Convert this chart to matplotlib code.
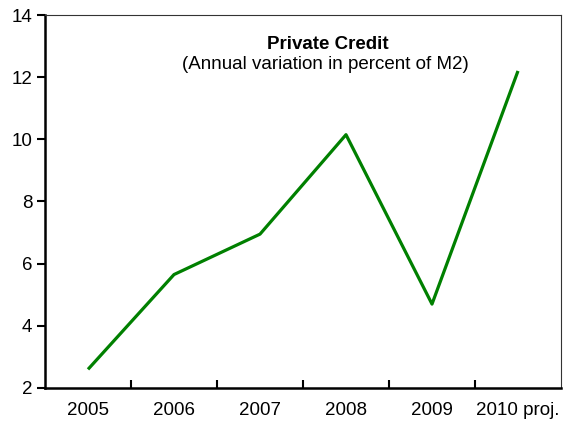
import matplotlib
matplotlib.use("Agg")
import matplotlib.pyplot as plt

years = ["2005", "2006", "2007", "2008", "2009", "2010 proj."]
credit = [2.6, 5.65, 6.95, 10.15, 4.7, 12.2]

plt.rcParams["font.family"] = ["Liberation Sans", "DejaVu Sans"]

fig = plt.figure(figsize=(5.63, 4.21), dpi=100)
ax = fig.add_axes([45 / 563, 1 - 388 / 421, 516 / 563, 373 / 421])

x = list(range(len(years)))
ax.plot(x, credit, color="#008000", linewidth=2.3, solid_capstyle="butt")

ax.set_xlim(-0.5, len(years) - 0.5)
ax.set_ylim(2, 14)
ax.set_yticks(range(2, 15, 2))

# category labels centred, tick marks between categories
ax.set_xticks(x)
ax.set_xticklabels(years, fontsize=13.5)
ax.tick_params(axis="x", length=0, pad=10)
ax.set_xticks([i + 0.5 for i in x[:-1]], minor=True)
ax.tick_params(axis="x", which="minor", direction="in", length=6, width=1.5)
ax.tick_params(axis="y", direction="out", length=6, width=1.5, labelsize=13.5, pad=3)

ax.spines["left"].set_linewidth(1.8)
ax.spines["bottom"].set_linewidth(1.8)
ax.spines["top"].set_linewidth(0.8)
ax.spines["right"].set_linewidth(0.8)
ax.spines["top"].set_color("#333333")
ax.spines["right"].set_color("#333333")

ax.text(0.548, 0.922, "Private Credit", transform=ax.transAxes, ha="center",
        va="center", fontsize=13.5, fontweight="bold")
ax.text(0.543, 0.866, "(Annual variation in percent of M2)", transform=ax.transAxes,
        ha="center", va="center", fontsize=13.5)

fig.savefig("out.png", dpi=100)
